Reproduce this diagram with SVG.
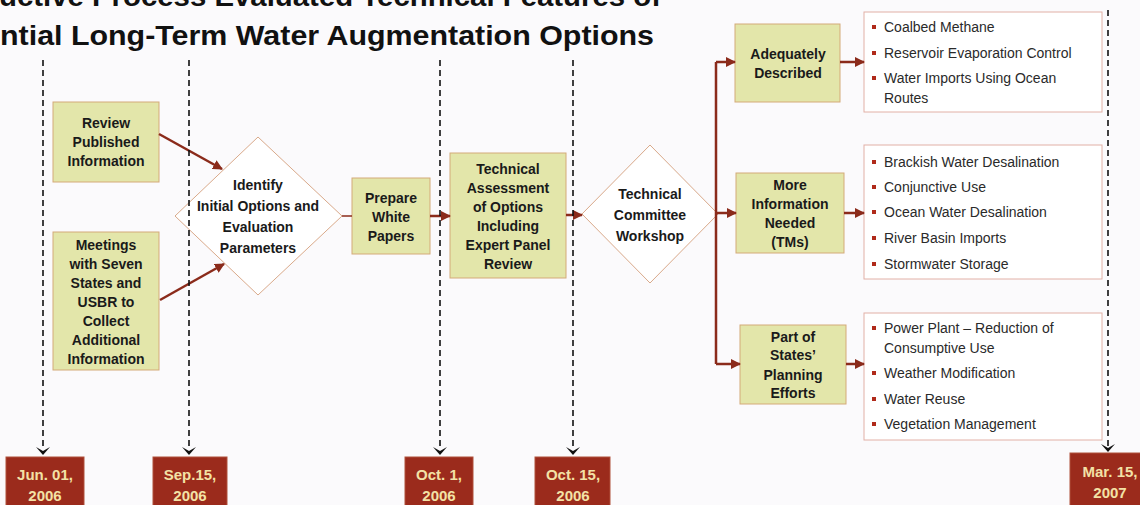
<svg xmlns="http://www.w3.org/2000/svg" width="1140" height="505" viewBox="0 0 1140 505">
<style>
.title{font-family:"Liberation Sans",Arial,sans-serif;font-weight:bold;font-size:28px;fill:#111}
.box{fill:#e3e6aa;stroke:#d4aa78;stroke-width:1}
.dia{fill:#fff;stroke:#d9a98a;stroke-width:1}
.lst{fill:#fff;stroke:#e2b0a6;stroke-width:1}
.nt{font-family:"Liberation Sans",Arial,sans-serif;font-weight:bold;font-size:14px;fill:#1a1a1a;text-anchor:middle}
.li{font-family:"Liberation Sans",Arial,sans-serif;font-size:14px;fill:#2a2a2a}
.bul{fill:#b02a1a}
.con{stroke:#8b2b1b;stroke-width:2.5;fill:none}
.tl{stroke:#111;stroke-width:1.6;stroke-dasharray:6 4;fill:none}
.chev{fill:#111}
.date{fill:#9b2b1c;stroke:#b0503a;stroke-width:1}
.dt{font-family:"Liberation Sans",Arial,sans-serif;font-weight:bold;font-size:15px;fill:#f3e2a6;text-anchor:middle}
</style>
<defs>
<marker id="ah" viewBox="0 0 10 10" refX="9" refY="5" markerWidth="4" markerHeight="4" orient="auto" markerUnits="strokeWidth">
<path d="M0,0 L10,5 L0,10 Z" fill="#8b2b1b"/>
</marker>
</defs>
<rect width="1140" height="505" fill="#fbfafc"/>
<g id="title">
<text class="title" x="-1" y="6" textLength="662" lengthAdjust="spacingAndGlyphs">uctive Process Evaluated Technical Features of</text>
<text class="title" x="0" y="45" textLength="654" lengthAdjust="spacingAndGlyphs">ntial Long-Term Water Augmentation Options</text>
</g>
<g id="n-review"><rect class="box" x="53" y="102" width="106" height="80"/>
<text class="nt" x="106" y="128">Review</text><text class="nt" x="106" y="147">Published</text><text class="nt" x="106" y="166">Information</text></g>
<g id="n-meetings"><rect class="box" x="53" y="232" width="106" height="138"/>
<text class="nt" x="106" y="250">Meetings</text><text class="nt" x="106" y="269">with Seven</text><text class="nt" x="106" y="288">States and</text><text class="nt" x="106" y="307">USBR to</text><text class="nt" x="106" y="326">Collect</text><text class="nt" x="106" y="345">Additional</text><text class="nt" x="106" y="364">Information</text></g>
<g id="n-identify"><polygon class="dia" points="258,137 342,216 258,295 175,216"/>
<text class="nt" x="258" y="190">Identify</text><text class="nt" x="258" y="211">Initial Options and</text><text class="nt" x="258" y="232">Evaluation</text><text class="nt" x="258" y="253">Parameters</text></g>
<g id="n-prepare"><rect class="box" x="352" y="178" width="78" height="76"/>
<text class="nt" x="391" y="203">Prepare</text><text class="nt" x="391" y="222">White</text><text class="nt" x="391" y="241">Papers</text></g>
<g id="n-assess"><rect class="box" x="450" y="153" width="116" height="125"/>
<text class="nt" x="508" y="174">Technical</text><text class="nt" x="508" y="193">Assessment</text><text class="nt" x="508" y="212">of Options</text><text class="nt" x="508" y="231">Including</text><text class="nt" x="508" y="250">Expert Panel</text><text class="nt" x="508" y="269">Review</text></g>
<g id="n-workshop"><polygon class="dia" points="650,145 718,214 650,283 582,214"/>
<text class="nt" x="650" y="199">Technical</text><text class="nt" x="650" y="220">Committee</text><text class="nt" x="650" y="241">Workshop</text></g>
<g id="n-adequate"><rect class="box" x="735" y="24" width="105" height="78"/>
<text class="nt" x="788" y="59">Adequately</text><text class="nt" x="788" y="78">Described</text></g>
<g id="n-more"><rect class="box" x="736" y="173" width="108" height="80"/>
<text class="nt" x="790" y="190">More</text><text class="nt" x="790" y="209">Information</text><text class="nt" x="790" y="228">Needed</text><text class="nt" x="790" y="247">(TMs)</text></g>
<g id="n-part"><rect class="box" x="740" y="325" width="106" height="79"/>
<text class="nt" x="793" y="342">Part of</text><text class="nt" x="793" y="360">States’</text><text class="nt" x="793" y="380">Planning</text><text class="nt" x="793" y="398">Efforts</text></g>
<g id="l-adequate"><rect class="lst" x="864" y="12" width="238" height="100"/>
<rect class="bul" x="872" y="25" width="4" height="4"/><text class="li" x="884" y="32">Coalbed  Methane</text>
<rect class="bul" x="872" y="51" width="4" height="4"/><text class="li" x="884" y="58">Reservoir Evaporation Control</text>
<rect class="bul" x="872" y="76" width="4" height="4"/><text class="li" x="884" y="83">Water Imports Using Ocean</text>
<text class="li" x="884" y="103">Routes</text></g>
<g id="l-more"><rect class="lst" x="864" y="145" width="238" height="134"/>
<rect class="bul" x="872" y="160" width="4" height="4"/><text class="li" x="884" y="167">Brackish Water Desalination</text>
<rect class="bul" x="872" y="185" width="4" height="4"/><text class="li" x="884" y="192">Conjunctive Use</text>
<rect class="bul" x="872" y="210" width="4" height="4"/><text class="li" x="884" y="217">Ocean Water Desalination</text>
<rect class="bul" x="872" y="236" width="4" height="4"/><text class="li" x="884" y="243">River Basin Imports</text>
<rect class="bul" x="872" y="262" width="4" height="4"/><text class="li" x="884" y="269">Stormwater Storage</text></g>
<g id="l-part"><rect class="lst" x="864" y="313" width="238" height="127"/>
<rect class="bul" x="872" y="326" width="4" height="4"/><text class="li" x="884" y="333">Power Plant  – Reduction of</text>
<text class="li" x="884" y="353">Consumptive Use</text>
<rect class="bul" x="872" y="371" width="4" height="4"/><text class="li" x="884" y="378">Weather Modification</text>
<rect class="bul" x="872" y="397" width="4" height="4"/><text class="li" x="884" y="404">Water Reuse</text>
<rect class="bul" x="872" y="422" width="4" height="4"/><text class="li" x="884" y="429">Vegetation Management</text></g>
<g id="connectors">
<line class="con" x1="159" y1="134" x2="222" y2="169" marker-end="url(#ah)"/>
<line class="con" x1="160" y1="300" x2="224" y2="264" marker-end="url(#ah)"/>
<line x1="342" y1="216" x2="352" y2="216" stroke="#8b2b1b" stroke-width="1.5"/>
<line class="con" x1="430" y1="216" x2="450" y2="216" marker-end="url(#ah)"/>
<line class="con" x1="566" y1="215" x2="582" y2="215" marker-end="url(#ah)"/>
<path class="con" d="M716,364 V62"/>
<line class="con" x1="716" y1="62" x2="735" y2="62" marker-end="url(#ah)"/>
<line class="con" x1="716" y1="213" x2="736" y2="213" marker-end="url(#ah)"/>
<line class="con" x1="716" y1="364" x2="740" y2="364" marker-end="url(#ah)"/>
<line class="con" x1="840" y1="62" x2="864" y2="62" marker-end="url(#ah)"/>
<line class="con" x1="844" y1="213" x2="864" y2="213" marker-end="url(#ah)"/>
<line class="con" x1="846" y1="364" x2="864" y2="364" marker-end="url(#ah)"/>
</g>
<g id="timeline">
<line class="tl" x1="43" y1="60" x2="43" y2="450"/>
<line class="tl" x1="189" y1="60" x2="189" y2="450"/>
<line class="tl" x1="440" y1="60" x2="440" y2="450"/>
<line class="tl" x1="573" y1="60" x2="573" y2="450"/>
<line class="tl" x1="1108" y1="10" x2="1108" y2="447"/>
<path class="chev" d="M36,447 L43,455 L50,447 L43,451 Z"/>
<path class="chev" d="M182,447 L189,455 L196,447 L189,451 Z"/>
<path class="chev" d="M433,447 L440,455 L447,447 L440,451 Z"/>
<path class="chev" d="M566,447 L573,455 L580,447 L573,451 Z"/>
<path class="chev" d="M1101,444 L1108,452 L1115,444 L1108,448 Z"/>
</g>
<g id="d-jun"><rect class="date" x="6" y="457" width="78" height="52"/><text class="dt" x="45" y="480">Jun. 01,</text><text class="dt" x="45" y="501">2006</text></g>
<g id="d-sep"><rect class="date" x="153" y="457" width="74" height="52"/><text class="dt" x="190" y="480">Sep.15,</text><text class="dt" x="190" y="501">2006</text></g>
<g id="d-oct1"><rect class="date" x="405" y="457" width="68" height="52"/><text class="dt" x="439" y="480">Oct. 1,</text><text class="dt" x="439" y="501">2006</text></g>
<g id="d-oct15"><rect class="date" x="535" y="457" width="75" height="52"/><text class="dt" x="573" y="480">Oct. 15,</text><text class="dt" x="573" y="501">2006</text></g>
<g id="d-mar"><rect class="date" x="1070" y="453" width="75" height="56"/><text class="dt" x="1110" y="477">Mar. 15,</text><text class="dt" x="1110" y="498">2007</text></g>
</svg>
